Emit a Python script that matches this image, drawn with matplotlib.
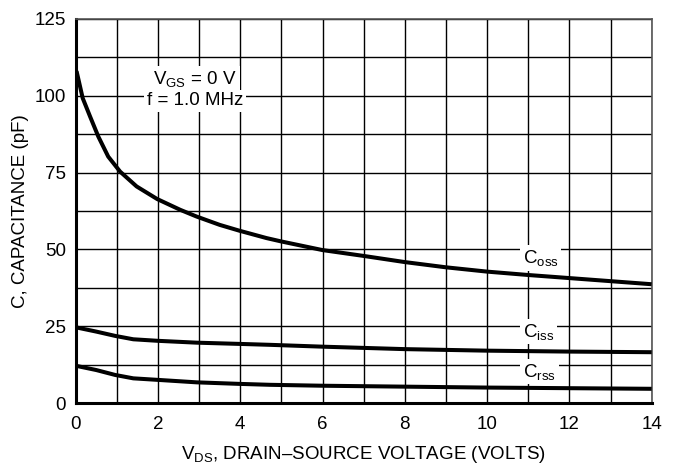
import matplotlib
matplotlib.use("Agg")
import matplotlib.pyplot as plt
from matplotlib.ticker import MultipleLocator

plt.rcParams['font.family'] = ['Liberation Sans', 'DejaVu Sans']
plt.rcParams['mathtext.fontset'] = 'custom'
plt.rcParams['mathtext.rm'] = 'Liberation Sans'
plt.rcParams['mathtext.it'] = 'Liberation Sans'
plt.rcParams['mathtext.default'] = 'rm'

# Data
coss_x = [0.02, 0.17, 0.35, 0.55, 0.79, 1.08, 1.48, 1.98, 2.54, 2.94, 3.5, 3.98, 4.64, 5.0, 6.0, 7.0, 8.0, 9.0, 10.0, 11.0, 12.0, 13.0, 14.0]
coss_y = [108, 99.2, 93.2, 86.7, 80.2, 75.3, 70.5, 66.4, 62.9, 60.7, 58.0, 56.1, 53.7, 52.6, 49.8, 47.9, 45.9, 44.2, 42.8, 41.7, 40.7, 39.7, 38.7]
ciss_x = [0, 0.5, 0.96, 1.4, 2.0, 2.94, 3.98, 4.72, 6, 8, 10, 12, 14]
ciss_y = [24.7, 23.3, 21.9, 20.8, 20.3, 19.7, 19.3, 19.0, 18.4, 17.6, 17.1, 16.8, 16.6]
crss_x = [0, 0.5, 0.96, 1.4, 2.0, 2.94, 3.98, 4.72, 6, 8, 10, 12, 14]
crss_y = [12.2, 10.8, 9.2, 8.1, 7.6, 6.8, 6.3, 6.0, 5.7, 5.4, 5.1, 4.9, 4.7]

x_ticks = [0, 2, 4, 6, 8, 10, 12, 14]
y_ticks = [0, 25, 50, 75, 100, 125]

fig = plt.figure(figsize=(6.76, 4.70), dpi=100)
ax = fig.add_axes([0.112, 0.142, 0.852, 0.818])

ax.set_xlim(0, 14)
ax.set_ylim(0, 125)
ax.set_xticks(x_ticks)
ax.set_yticks(y_ticks)
ax.xaxis.set_minor_locator(MultipleLocator(1))
ax.yaxis.set_minor_locator(MultipleLocator(12.5))
ax.grid(which='both', color='black', linewidth=1.0)
ax.set_axisbelow(True)
ax.tick_params(which='both', length=0, labelsize=13.5)
ax.tick_params(axis='x', pad=9)
ax.tick_params(axis='y', pad=7)

for s in ['left', 'bottom']:
    ax.spines[s].set_linewidth(2.2)
    ax.spines[s].set_color('black')
for s in ['top', 'right']:
    ax.spines[s].set_linewidth(1.2)
    ax.spines[s].set_color('#555555')

lw = 2.9
ax.plot(coss_x, coss_y, color='black', lw=lw, solid_capstyle='butt', zorder=3)
ax.plot(ciss_x, ciss_y, color='black', lw=lw, solid_capstyle='butt', zorder=3)
ax.plot(crss_x, crss_y, color='black', lw=lw, solid_capstyle='butt', zorder=3)

fs = 13.5
box = dict(facecolor='white', edgecolor='none', pad=2)
ax.text(2.9, 105.5, r'V$_{\mathrm{GS}}$ = 0 V', ha='center', va='center', fontsize=fs, bbox=box, zorder=4)
ax.text(2.9, 98.3, 'f = 1.0 MHz', ha='center', va='center', fontsize=fs, bbox=box, zorder=4)
ax.text(11.3, 47.3, r'C$_{\mathrm{oss}}$', ha='center', va='center', fontsize=fs, bbox=box, zorder=4)
ax.text(11.25, 23.3, r'C$_{\mathrm{iss}}$', ha='center', va='center', fontsize=fs, bbox=box, zorder=4)
ax.text(11.27, 10.3, r'C$_{\mathrm{rss}}$', ha='center', va='center', fontsize=fs, bbox=box, zorder=4)

ax.set_ylabel('C, CAPACITANCE (pF)', fontsize=fs, va='center')
ax.set_xlabel(r'V$_{\mathrm{DS}}$, DRAIN–SOURCE VOLTAGE (VOLTS)', fontsize=fs, va='center')
ax.yaxis.set_label_coords(-0.095, 0.5)
ax.xaxis.set_label_coords(0.5, -0.132)

fig.savefig('out.png', dpi=100)
